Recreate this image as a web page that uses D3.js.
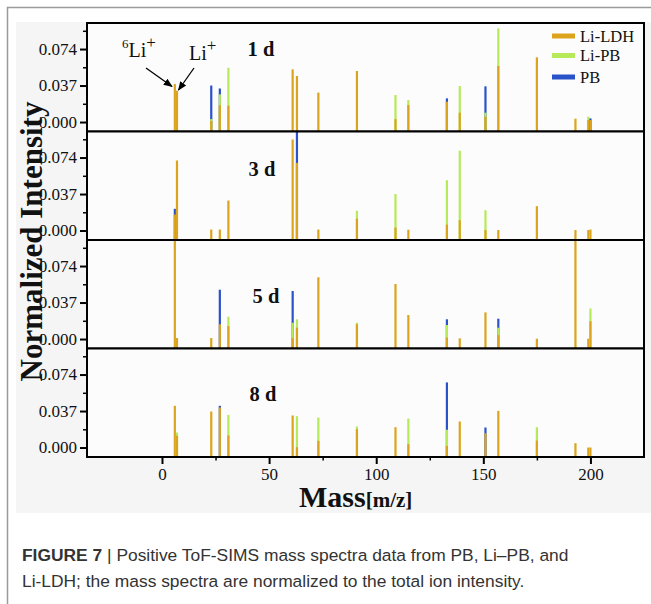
<!DOCTYPE html>
<html>
<head>
<meta charset="utf-8">
<script src="https://cdn.jsdelivr.net/npm/d3@7/dist/d3.min.js"></script>
<style>
  html, body { margin: 0; padding: 0; background: #ffffff; }
  svg { display: block; }
</style>
</head>
<body>
<svg id="fig" width="651" height="604"></svg>
<script>
// Peak positions (m/z) shared by all spectra
const peakMass = [6, 7, 23, 27, 31, 61, 63, 73, 91, 109, 115, 133, 139, 151, 157, 175, 193, 199, 200];

// Sample series and day labels
const seriesNames = ["Li-LDH", "Li-PB", "PB"];
const seriesColors = ["#dba41c", "#b6ea58", "#2a52c9"];
const dayLabels = ["1 d", "3 d", "5 d", "8 d"];

// Normalized intensities, one array per series and day (null = no peak)
const ldh1d  = [0.0385, 0.0318, 0.001, 0.017, 0.0166, 0.0534, 0.0467, 0.0298, 0.0517, 0.003, 0.0172, 0.0206, 0.0095, 0.0054, 0.0568, 0.0656, 0.0034, 0.002, 0.002];
const liPb1d = [null, null, 0.003, 0.028, 0.055, null, null, null, null, 0.0274, 0.0223, null, 0.0365, 0.0095, 0.095, null, null, 0.0054, null];
const pb1d   = [null, null, 0.037, 0.034, null, null, null, null, null, null, null, 0.024, null, 0.0362, null, null, null, null, 0.0037];

const ldh3d  = [0.0162, 0.071, 0.001, 0.001, 0.0304, 0.0923, 0.0686, 0.001, 0.012, 0.003, 0.0008, 0.006, 0.0105, 0.0005, 0.0005, 0.0247, 0.0005, 0.0005, 0.001];
const liPb3d = [null, null, null, null, null, null, null, null, 0.020, 0.037, null, 0.051, 0.081, 0.0206, null, null, null, null, null];
const pb3d   = [0.022, null, null, null, null, null, 0.1, null, null, null, null, null, null, null, null, null, null, null, null];

const ldh5d  = [0.1, 0.001, 0.001, 0.015, 0.0132, 0.001, 0.0115, 0.0626, 0.015, 0.0558, 0.0243, 0.0013, 0.0007, 0.027, 0.004, 0.0003, 0.1, 0.0003, 0.018];
const liPb5d = [null, null, null, null, 0.0226, 0.0165, 0.020, null, 0.0165, null, null, 0.0142, null, null, 0.0115, null, null, null, 0.031];
const pb5d   = [null, null, null, 0.050, null, 0.0487, null, null, null, null, null, 0.020, null, null, 0.0206, null, null, null, null];

const ldh8d  = [0.0423, 0.0119, 0.0365, 0.0406, 0.0122, 0.0325, 0.0003, 0.0068, 0.0186, 0.0206, 0.0034, 0.0017, 0.0264, 0.0145, 0.0372, 0.0071, 0.0044, 0.0, 0.0];
const liPb8d = [null, 0.0152, null, null, 0.0331, null, 0.0318, 0.0304, 0.0213, null, 0.0294, 0.018, null, null, null, 0.0206, null, null, null];
const pb8d   = [null, null, null, 0.0423, null, null, null, null, null, null, null, 0.066, null, 0.0203, null, null, null, null, null];

// Axis ticks
const yMajorTicks = [0, 0.037, 0.074];
const yMinorTicks = [0.0185, 0.0555, 0.0925];
const xTickLabels = [0, 50, 100, 150, 200];
const xMinorTicks = [25, 75, 125, 175];
const innerMajorTicks = [0, 100, 200];
const innerMinorTicks = [50, 150];

const panels = [
  [ldh1d, liPb1d, pb1d],
  [ldh3d, liPb3d, pb3d],
  [ldh5d, liPb5d, pb5d],
  [ldh8d, liPb8d, pb8d]
];

const svg = d3.select("#fig");
const W = 651, H = 604;
const plotLeft = 87, plotRight = 644, plotTop = 23, panelH = 108.5;
const serif = "'Liberation Serif', 'Times New Roman', serif";
const sans = "'Liberation Sans', Arial, sans-serif";

// page and figure background
svg.append("rect").attr("width", W).attr("height", H).attr("fill", "#ffffff");
svg.append("rect").attr("x", 16).attr("y", 22).attr("width", W - 16).attr("height", 491).attr("fill", "#f5f5f5");
svg.append("path")
  .attr("d", `M7.5,${H} V7.5 H${W}`)
  .attr("fill", "none").attr("stroke", "#9a9a9a").attr("stroke-width", 1.5);

const x = d3.scaleLinear().domain([-35, 225]).range([plotLeft, plotRight]);

const defs = svg.append("defs");
defs.append("marker")
  .attr("id", "arrowHead")
  .attr("viewBox", "0 0 10 10")
  .attr("refX", 9).attr("refY", 5)
  .attr("markerWidth", 7).attr("markerHeight", 7)
  .attr("orient", "auto")
  .append("path").attr("d", "M0,1 L10,5 L0,9 Z").attr("fill", "#000");

panels.forEach((series, p) => {
  const y0 = plotTop + p * panelH;
  const y = d3.scaleLinear().domain([-0.0096, 0.1004]).range([y0 + panelH, y0]);
  const g = svg.append("g");

  g.append("rect").attr("x", plotLeft).attr("y", y0).attr("width", plotRight - plotLeft).attr("height", panelH)
    .attr("fill", "#fcfcfc");

  defs.append("clipPath").attr("id", "clip" + p)
    .append("rect").attr("x", plotLeft).attr("y", y0).attr("width", plotRight - plotLeft).attr("height", panelH);

  // overlaid spectra: at each mass the taller series sits behind the shorter ones
  const bars = [];
  peakMass.forEach((m, i) => {
    const items = series.map((arr, s) => ({ m, v: arr[i], s })).filter(d => d.v !== null);
    items.sort((a, b) => b.v - a.v);
    items.forEach(d => bars.push(d));
  });
  const barW = 2.2;
  g.append("g").attr("clip-path", `url(#clip${p})`)
    .selectAll("rect").data(bars).join("rect")
    .attr("x", d => x(d.m) - barW / 2)
    .attr("width", barW)
    .attr("y", d => y(d.v))
    .attr("height", d => y.range()[0] - y(d.v))
    .attr("fill", d => seriesColors[d.s]);

  // left axis
  const yAxis = d3.axisLeft(y).tickValues(yMajorTicks).tickFormat(d3.format(".3f")).tickSize(7).tickPadding(3);
  const ya = g.append("g").attr("transform", `translate(${plotLeft},0)`).call(yAxis);
  ya.select(".domain").remove();
  ya.selectAll("line").attr("stroke", "#000").attr("stroke-width", 2);
  ya.selectAll("text").attr("font-family", serif).attr("font-size", 17).attr("fill", "#111");
  const yMinor = d3.axisLeft(y).tickValues(yMinorTicks).tickFormat("").tickSize(4);
  const ym = g.append("g").attr("transform", `translate(${plotLeft},0)`).call(yMinor);
  ym.select(".domain").remove();
  ym.selectAll("line").attr("stroke", "#000").attr("stroke-width", 1.5);

  // bottom axis of the panel
  const last = p === panels.length - 1;
  const xMajor = d3.axisBottom(x).tickValues(last ? xTickLabels : innerMajorTicks)
    .tickSize(7).tickPadding(4).tickFormat(last ? d3.format("d") : "");
  const xa = g.append("g").attr("transform", `translate(0,${y0 + panelH})`).call(xMajor);
  xa.select(".domain").remove();
  xa.selectAll("line").attr("stroke", "#000").attr("stroke-width", 2);
  xa.selectAll("text").attr("font-family", serif).attr("font-size", 17).attr("fill", "#111");
  const xMinorAxis = d3.axisBottom(x).tickValues(last ? xMinorTicks : innerMinorTicks).tickSize(last ? 3.5 : 4).tickFormat("");
  const xm = g.append("g").attr("transform", `translate(0,${y0 + panelH})`).call(xMinorAxis);
  xm.select(".domain").remove();
  xm.selectAll("line").attr("stroke", "#000").attr("stroke-width", 1.5);

  // frame
  g.append("rect").attr("x", plotLeft).attr("y", y0).attr("width", plotRight - plotLeft).attr("height", panelH)
    .attr("fill", "none").attr("stroke", "#000").attr("stroke-width", 2);
});

// day labels
const dayPos = [[261, 56], [262, 176], [266, 303], [263, 401]];
dayLabels.forEach((t, i) => {
  svg.append("text").attr("x", dayPos[i][0]).attr("y", dayPos[i][1])
    .attr("text-anchor", "middle").attr("font-family", serif).attr("font-weight", "bold")
    .attr("font-size", 20.5).attr("fill", "#111").text(t);
});

// lithium isotope annotations
const ann = svg.append("g").attr("font-family", serif).attr("fill", "#111");
const t6 = ann.append("text").attr("x", 122).attr("y", 57).attr("font-size", 20);
t6.append("tspan").attr("font-size", 13).attr("dy", -9).text("6");
t6.append("tspan").attr("dy", 9).text("Li");
t6.append("tspan").attr("font-size", 17).attr("dy", -9).text("+");
const t7 = ann.append("text").attr("x", 189).attr("y", 60).attr("font-size", 20);
t7.append("tspan").text("Li");
t7.append("tspan").attr("font-size", 17).attr("dy", -9).text("+");
svg.append("line").attr("x1", 146).attr("y1", 68).attr("x2", 172).attr("y2", 86.5)
  .attr("stroke", "#000").attr("stroke-width", 1.3).attr("marker-end", "url(#arrowHead)");
svg.append("line").attr("x1", 194).attr("y1", 68).attr("x2", 178.5).attr("y2", 90)
  .attr("stroke", "#000").attr("stroke-width", 1.3).attr("marker-end", "url(#arrowHead)");

// legend
const legend = svg.append("g");
const legY = [36, 55.5, 77];
seriesNames.forEach((n, i) => {
  legend.append("rect").attr("x", 552).attr("y", legY[i] - 2.5).attr("width", 23).attr("height", 5)
    .attr("fill", seriesColors[i]);
  legend.append("text").attr("x", 580).attr("y", legY[i] + 5.5).attr("font-family", serif)
    .attr("font-size", 16.5).attr("fill", "#111").text(n);
});

// axis titles
svg.append("text")
  .attr("transform", "translate(42,241.5) rotate(-90)")
  .attr("text-anchor", "middle").attr("font-family", serif).attr("font-weight", "bold")
  .attr("font-size", 31).attr("fill", "#111").text("Normalized Intensity");
const xt = svg.append("text").attr("x", 299).attr("y", 507)
  .attr("font-family", serif).attr("font-weight", "bold").attr("fill", "#111");
xt.append("tspan").attr("font-size", 30).text("Mass");
xt.append("tspan").attr("font-size", 21).text("[m/z]");

// caption
const cap = svg.append("g").attr("font-family", sans).attr("font-size", 17.4).attr("fill", "#333");
const c1 = cap.append("text").attr("x", 22).attr("y", 561);
c1.append("tspan").attr("font-weight", "bold").text("FIGURE 7");
c1.append("tspan").text(" | Positive ToF-SIMS mass spectra data from PB, Li–PB, and");
cap.append("text").attr("x", 22).attr("y", 587)
  .text("Li-LDH; the mass spectra are normalized to the total ion intensity.");
</script>
</body>
</html>
